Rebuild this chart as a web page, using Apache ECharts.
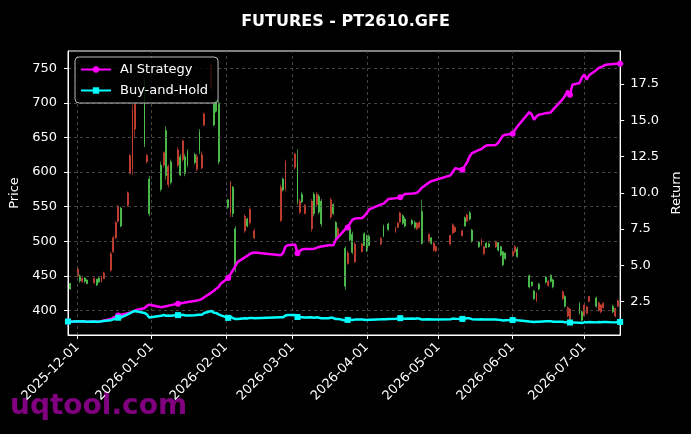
<!DOCTYPE html>
<html><head><meta charset="utf-8">
<script src="https://cdn.jsdelivr.net/npm/echarts@6/dist/echarts.min.js"></script>
<style>html,body{margin:0;padding:0;background:#000;}#c{width:691px;height:434px;}</style>
</head><body><div id="c"></div>
<script>
// ---- data ----
const dates = [
 '2025-11-27','2025-11-28',
 '2025-12-01','2025-12-02','2025-12-03','2025-12-04','2025-12-05','2025-12-08','2025-12-09','2025-12-10','2025-12-11','2025-12-12','2025-12-15','2025-12-16','2025-12-17','2025-12-18','2025-12-19','2025-12-22','2025-12-23','2025-12-24','2025-12-25','2025-12-26','2025-12-29','2025-12-30','2025-12-31',
 '2026-01-05','2026-01-06','2026-01-07','2026-01-08','2026-01-09','2026-01-12','2026-01-13','2026-01-14','2026-01-15','2026-01-16','2026-01-19','2026-01-20','2026-01-21','2026-01-22','2026-01-23','2026-01-26','2026-01-27','2026-01-28','2026-01-29','2026-01-30',
 '2026-02-02','2026-02-03','2026-02-04','2026-02-05','2026-02-06','2026-02-09','2026-02-10','2026-02-11','2026-02-12','2026-02-13','2026-02-24','2026-02-25','2026-02-26','2026-02-27',
 '2026-03-02','2026-03-03','2026-03-04','2026-03-05','2026-03-06','2026-03-09','2026-03-10','2026-03-11','2026-03-12','2026-03-13','2026-03-16','2026-03-17','2026-03-18','2026-03-19','2026-03-20','2026-03-23','2026-03-24','2026-03-25','2026-03-26','2026-03-27','2026-03-30','2026-03-31',
 '2026-04-01','2026-04-02','2026-04-03','2026-04-07','2026-04-08','2026-04-09','2026-04-10','2026-04-13','2026-04-14','2026-04-15','2026-04-16','2026-04-17','2026-04-20','2026-04-21','2026-04-22','2026-04-23','2026-04-24','2026-04-27','2026-04-28','2026-04-29','2026-04-30',
 '2026-05-06','2026-05-07','2026-05-08','2026-05-11','2026-05-12','2026-05-13','2026-05-14','2026-05-15','2026-05-18','2026-05-19','2026-05-20','2026-05-21','2026-05-22','2026-05-25','2026-05-26','2026-05-27','2026-05-28','2026-05-29',
 '2026-06-01','2026-06-02','2026-06-03','2026-06-08','2026-06-09','2026-06-10','2026-06-11','2026-06-12','2026-06-15','2026-06-16','2026-06-17','2026-06-18','2026-06-22','2026-06-23','2026-06-24','2026-06-25','2026-06-26','2026-06-29','2026-06-30',
 '2026-07-01','2026-07-02','2026-07-03','2026-07-06','2026-07-07','2026-07-08','2026-07-09','2026-07-10','2026-07-13','2026-07-14','2026-07-15','2026-07-16'
];
const N = null;
const open = [
 N,439,
 450,450,442,447,444, 440,445,447,442,446, 458,485,505,529,548, 552,598,604,662,N, 705,615,590,
 610,610,660,582,615, 610,622,618,622,630, 625,604,658,606,668, 722,700,702,700,N,
 560,540,578,518,N, 515,532,527,N,505, 530,590,575,N,
 607,615,542,568,540, 518,568,553,565,558, N,535,553,527,508, 490,468,518,510,470, 485,511,
 508,507,N, 496,522,N,525, 513,520,528,537,532, 530,527,518,520,543, 500,505,487,486,
 496,512,514, 508,534,529,541,516, 499,494,482,497,496, 492,498,492,485,483,
 479,485,489, 450,441,428,414,438, 448,436,451,444, 417,420,392,386,N, 410,398,
 392,396,413, 418,400,398,404,N, 406,392,406,N
];
const close = [
 N,431,
 460,443,446,442,439, 446,437,441,448,454, 482,505,527,550,522, 570,624,690,698,N, 640,624,540,
 575,628,595,608,585, 632,596,645,598,610, 614,622,630,625,684, 755,668,688,615,N,
 549,585,540,462,N, 536,522,546,N,515, 578,574,615,N,
 626,557,558,557,552, 558,540,568,542,525, N,560,540,505,518, 435,483,502,484,496, 496,494,
 486,494,N, 504,508,N,517, 519,526,541,526,522, 525,520,526,527,497, 510,497,497,492,
 508,524,520, 515,522,538,532,500, 492,502,492,491,492, 500,487,480,466,475,
 485,492,478, 434,436,417,425,431, 441,442,442,434, 427,406,404,402,N, 396,386,
 408,405,420, 406,411,408,410,N, 398,403,414,N
];
const low = [
 N,430,
 448,440,440,440,438, 438,435,440,440,445, 456,483,503,527,520, 550,597,596,650,N, 636,612,536,
 572,607,589,578,582, 607,594,615,594,607, 611,601,626,604,666, 716,666,686,611,N,
 547,535,535,455,N, 512,520,524,N,503, 528,572,572,N,
 604,553,539,555,539, 514,536,550,539,521, N,532,538,503,506, 430,466,500,481,469, 484,493,
 484,493,N, 494,506,N,515, 512,519,526,524,520, 523,518,516,519,495, 498,495,485,484,
 494,510,512, 507,521,528,530,498, 490,493,480,490,491, 490,485,478,464,473,
 478,483,476, 432,434,415,412,429, 439,434,440,432, 415,404,390,384,N, 394,384,
 391,394,412, 404,398,396,403,N, 396,390,405,N
];
const high = [
 N,440,
 464,452,448,448,445, 448,446,448,450,456, 485,508,529,553,550, 572,626,698,702,N, 734,626,594,
 615,630,666,611,618, 636,626,647,626,633, 628,626,662,630,686, 760,702,705,704,N,
 561,587,580,522,N, 539,534,549,N,518, 582,592,618,N,
 628,633,561,571,554, 561,571,571,568,561, N,563,555,529,521, 493,486,520,514,499, 498,513,
 510,510,N, 506,524,N,527, 521,528,543,539,535, 532,530,528,529,560, 511,506,499,494,
 510,526,522, 517,536,540,544,518, 500,504,493,499,498, 501,499,493,486,484,
 486,494,492, 452,442,430,426,440, 450,444,452,446, 429,422,406,404,N, 412,400,
 409,407,421, 420,413,409,412,N, 408,404,416,N
];
const aiReturn = [
 1.13,1.12,
 1.14,1.13,1.14,1.13,1.12, 1.13,1.12,1.13,1.15,1.20, 1.30,1.40,1.48,1.55,1.58, 1.70,1.74,1.80,1.88,1.95, 2.05,2.20,2.29,
 2.11,2.15,2.18,2.22,2.26, 2.36,2.38,2.40,2.44,2.48, 2.55,2.58,2.62,2.68,2.80, 3.12,3.25,3.38,3.51,3.75,
 4.13,4.40,4.66,4.95,5.24, 5.55,5.65,5.78,5.85,5.89, 5.70,5.85,6.30,6.39,
 6.44,5.84,6.00,6.10,6.12, 6.12,6.15,6.20,6.27,6.30, 6.38,6.39,6.39,6.74,6.95, 7.50,7.60,7.90,8.15,8.22, 8.26,8.40,
 8.60,8.85,8.93, 9.20,9.25,9.40,9.57, 9.62,9.65,9.69,9.80,9.92, 9.95,9.97,10.00,10.15,10.35, 10.70,10.80,10.85,10.90,
 11.20,11.45,11.69, 11.58,11.85,12.10,12.50,12.73, 12.96,13.02,13.15,13.26,13.28, 13.30,13.45,13.70,13.95,14.00,
 14.06,14.35,14.57, 15.56,15.40,15.03,15.25,15.38, 15.49,15.49,15.55,15.75, 16.45,16.70,17.04,16.76,17.45, 17.57,17.95,
 18.14,17.80,18.10, 18.45,18.60,18.65,18.75,18.83, 18.88,18.89,18.89,18.90
];
const bhReturn = [
 1.13,1.12,
 1.15,1.13,1.14,1.13,1.12, 1.13,1.12,1.12,1.14,1.16, 1.22,1.28,1.33,1.39,1.40, 1.62,1.70,1.80,1.85,1.82, 1.72,1.62,1.40,
 1.52,1.58,1.53,1.55,1.52, 1.57,1.53,1.60,1.55,1.55, 1.56,1.58,1.60,1.60,1.72, 1.85,1.74,1.72,1.62,1.55,
 1.38,1.45,1.36,1.30,1.30, 1.36,1.34,1.38,1.38,1.35, 1.42,1.42,1.55,1.58,
 1.58,1.44,1.42,1.42,1.40, 1.42,1.38,1.42,1.39,1.35, 1.35,1.40,1.37,1.30,1.31, 1.20,1.24,1.27,1.23,1.26, 1.26,1.25,
 1.24,1.25,1.25, 1.28,1.29,1.29,1.31, 1.32,1.33,1.36,1.33,1.32, 1.33,1.32,1.33,1.33,1.27, 1.29,1.27,1.27,1.26,
 1.29,1.33,1.32, 1.31,1.33,1.36,1.35,1.29, 1.27,1.28,1.26,1.26,1.26, 1.27,1.25,1.24,1.20,1.22,
 1.23,1.25,1.22, 1.13,1.12,1.09,1.11,1.12, 1.14,1.14,1.14,1.12, 1.11,1.07,1.07,1.06,1.07, 1.05,1.03,
 1.07,1.07,1.10, 1.07,1.09,1.08,1.09,1.09, 1.07,1.08,1.10,1.10
];
const monthTicks = ['2025-12-01','2026-01-01','2026-02-01','2026-03-01','2026-04-01','2026-05-01','2026-06-01','2026-07-01'];
const priceTicks = [400,450,500,550,600,650,700,750];
const returnTicks = [2.5,5,7.5,10,12.5,15,17.5];
const xRange = ['2025-11-27','2026-07-16'];

// ---- build ----
const toTs = s => { const p = s.split('-').map(Number); return Date.UTC(p[0], p[1]-1, p[2]); };
const pad = n => (n < 10 ? '0' : '') + n;
const fmt = v => { const d = new Date(v); return d.getUTCFullYear() + '-' + pad(d.getUTCMonth()+1) + '-' + pad(d.getUTCDate()); };
const ts = dates.map(toTs);
const monthTs = monthTicks.map(toTs);
const candles = [];
dates.forEach((d, i) => { if (open[i] != null) candles.push([ts[i], open[i], close[i], low[i], high[i]]); });
const aiData = ts.map((t, i) => [t, aiReturn[i]]);
const bhData = ts.map((t, i) => [t, bhReturn[i]]);

const FONT = 'DejaVu Sans';
const UP = '#ee4b3b', DOWN = '#5ce65c';
const gridLineStyle = { color: '#555', type: [3, 3], width: 0.8 };
const markerSize = (v, p) => (p.dataIndex % 15 === 0 ? 6 : 0);

const chart = echarts.init(document.getElementById('c'), null, { renderer: 'canvas' });
chart.setOption({
  backgroundColor: '#000',
  animation: false,
  title: { text: 'FUTURES - PT2610.GFE', left: 'center', top: 9,
    textStyle: { color: '#fff', fontWeight: 'bold', fontSize: 16, fontFamily: FONT } },
  legend: { orient: 'vertical', left: 75, top: 57, padding: [6, 10, 6, 5],
    itemWidth: 30, itemHeight: 8, itemGap: 8,
    backgroundColor: 'rgba(0,0,0,0.8)', borderColor: '#bbb', borderWidth: 1, borderRadius: 4,
    textStyle: { color: '#fff', fontSize: 13, fontFamily: FONT, padding: [0, 0, 0, 4] },
    data: ['AI Strategy', 'Buy-and-Hold'], z: 10 },
  grid: { left: 68, right: 69, top: 51, bottom: 99, show: true, borderColor: '#fff', borderWidth: 1, backgroundColor: 'transparent' },
  xAxis: { type: 'value', min: toTs(xRange[0]), max: toTs(xRange[1]), z: 5,
    axisLine: { show: true, lineStyle: { color: '#fff' } },
    axisTick: { show: true, customValues: monthTs, length: 4, lineStyle: { color: '#fff' } },
    axisLabel: { customValues: monthTs, rotate: 45, margin: 10, color: '#fff', fontSize: 13, fontFamily: FONT, formatter: v => fmt(v) },
    splitLine: { show: false } },
  yAxis: [
    { type: 'value', position: 'left', min: 364.5, max: 775, z: 5,
      name: 'Price', nameLocation: 'middle', nameGap: 43, nameRotate: 90,
      nameTextStyle: { color: '#fff', fontSize: 13, fontFamily: FONT },
      axisLine: { show: true, lineStyle: { color: '#fff' } },
      axisTick: { show: true, customValues: priceTicks, length: 4, lineStyle: { color: '#fff' } },
      axisLabel: { customValues: priceTicks, margin: 11, color: '#fff', fontSize: 13, fontFamily: FONT },
      splitLine: { show: false } },
    { type: 'value', position: 'right', min: 0.2, max: 19.77, z: 5,
      name: 'Return', nameLocation: 'middle', nameGap: 46, nameRotate: 90,
      nameTextStyle: { color: '#fff', fontSize: 13, fontFamily: FONT },
      axisLine: { show: true, lineStyle: { color: '#fff' } },
      axisTick: { show: true, customValues: returnTicks, length: 4, lineStyle: { color: '#fff' } },
      axisLabel: { customValues: returnTicks, margin: 10, color: '#fff', fontSize: 13, fontFamily: FONT, formatter: v => v.toFixed(1) },
      splitLine: { show: false } }
  ],
  graphic: [{ type: 'text', left: 10, top: 393, z: 0,
    style: { text: 'uqtool.com', fill: '#800080', font: 'bold 28px "DejaVu Sans"' } }],
  series: [
    { type: 'line', data: [], xAxisIndex: 0, yAxisIndex: 0, z: 1, silent: true,
      markLine: { silent: true, symbol: ['none', 'none'], label: { show: false }, lineStyle: gridLineStyle,
        data: monthTs.map(v => ({ xAxis: v })).concat(priceTicks.map(v => ({ yAxis: v }))) } },
    { name: 'Price', type: 'candlestick', xAxisIndex: 0, yAxisIndex: 0, z: 2,
      encode: { x: 0, y: [1, 2, 3, 4] }, barWidth: 1.4,
      itemStyle: { color: UP, color0: DOWN, borderColor: UP, borderColor0: DOWN, borderWidth: 0.6 },
      data: candles },
    { name: 'AI Strategy', type: 'line', xAxisIndex: 0, yAxisIndex: 1, z: 5,
      symbol: 'circle', symbolSize: markerSize, showSymbol: true,
      lineStyle: { color: '#ff00ff', width: 2.5 }, itemStyle: { color: '#ff00ff' }, data: aiData },
    { name: 'Buy-and-Hold', type: 'line', xAxisIndex: 0, yAxisIndex: 1, z: 6,
      symbol: 'rect', symbolSize: markerSize, showSymbol: true,
      lineStyle: { color: '#00ffff', width: 2.5 }, itemStyle: { color: '#00ffff' }, data: bhData }
  ]
});
</script>
</body></html>
